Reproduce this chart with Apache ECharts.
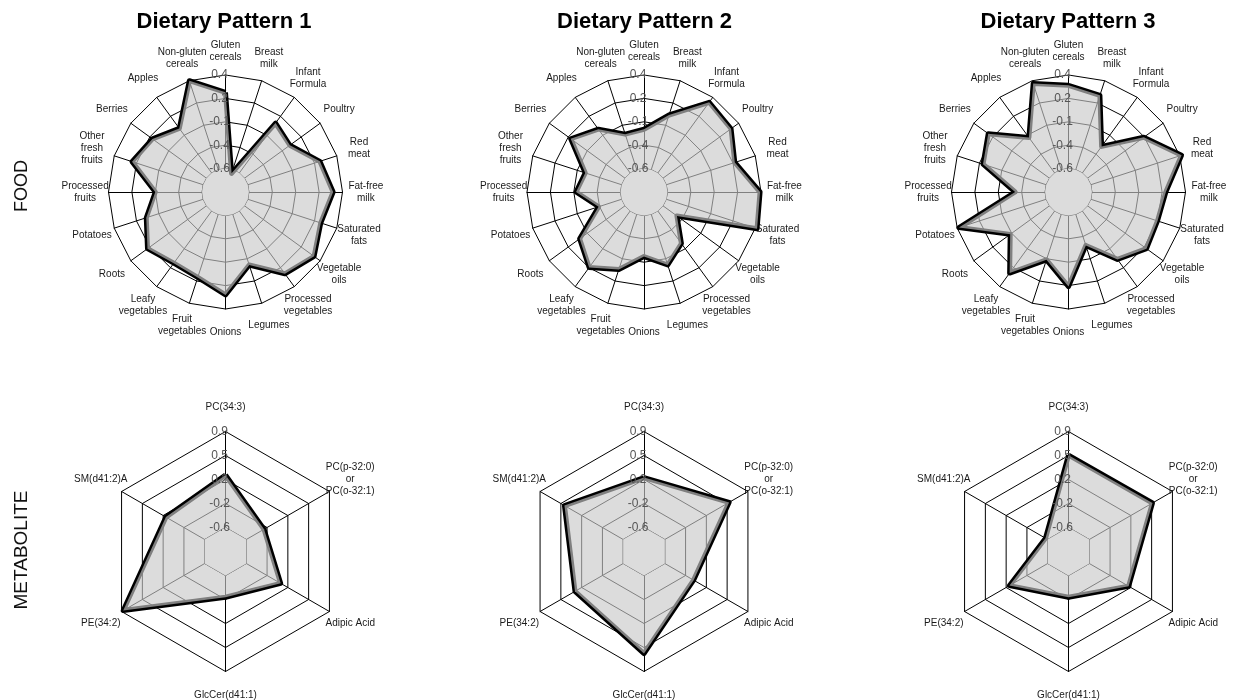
<!DOCTYPE html>
<html><head><meta charset="utf-8">
<script src="https://cdn.jsdelivr.net/npm/echarts@6/dist/echarts.min.js"></script>
<style>html,body{margin:0;padding:0;background:#fff}#c{width:1235px;height:700px}</style>
</head><body><div id="c"></div>
<script>
// ---- data (clockwise from top) ----
const foodCategories = ['Gluten\ncereals','Breast\nmilk','Infant\nFormula','Poultry','Red\nmeat','Fat-free\nmilk','Saturated\nfats','Vegetable\noils','Processed\nvegetables','Legumes','Onions','Fruit\nvegetables','Leafy\nvegetables','Roots','Potatoes','Processed\nfruits','Other\nfresh\nfruits','Berries','Apples','Non-gluten\ncereals'];
const metaCategories = ['PC(34:3)','PC(p-32:0)\nor\nPC(o-32:1)','Adipic Acid','GlcCer(d41:1)','PE(34:2)','SM(d41:2)A'];
const foodTickLabels = ['-0.6','-0.4','-0.1','0.2','0.4'];
const metaTickLabels = ['-0.6','-0.2','0.2','0.5','0.9'];
const patternTitles = ['Dietary Pattern 1','Dietary Pattern 2','Dietary Pattern 3'];
const rowLabels = ['FOOD','METABOLITE'];

const foodDP1 = [0.215,-0.64,0.06,0.0,0.21,0.30,0.22,0.32,0.23,-0.03,0.25,0.11,0.09,0.18,0.04,-0.10,0.20,0.115,-0.01,0.40];
const foodDP2 = [-0.18,0.015,0.335,0.30,0.17,0.39,0.42,-0.415,-0.17,-0.03,-0.16,0.02,0.147,0.0,-0.34,-0.124,-0.19,0.118,-0.02,-0.20];
const foodDP3 = [0.29,0.236,-0.248,0.144,0.42,0.19,0.15,0.18,0.04,-0.25,0.16,-0.088,0.22,-0.08,0.38,-0.28,0.11,0.21,-0.13,0.37];
const metaDP1 = [0.22,-0.28,0.02,-0.26,0.87,0.10];
const metaDP2 = [0.18,0.56,-0.08,0.62,0.27,0.46];
const metaDP3 = [0.53,0.54,0.11,-0.26,0.09,-0.56];

// ---- chart ----
const chart = echarts.init(document.getElementById('c'));
const colX = [225.5, 644, 1068.5];
const titleX = [224, 644.5, 1068];
const foodY = 192, metaY = 551.5;
const foodR = 117, metaR = 120;
const FONT = 'Liberation Sans, Arial, sans-serif';

function ccwOrder(arr) { return [arr[0]].concat(arr.slice(1).reverse()); }

function scaleOf(ticks) {
  const lo = parseFloat(ticks[0]);
  const hi = parseFloat(ticks[ticks.length - 1]);
  const step = (hi - lo) / (ticks.length - 1);
  return { lo: lo, hi: hi, step: step, min: lo - step };
}

function makeRadar(cats, ticks, cx, cy, r, labelsOnly) {
  const s = scaleOf(ticks);
  const ordered = ccwOrder(cats);
  const base = {
    center: [cx, cy], radius: r, startAngle: 90, shape: 'polygon',
    splitNumber: ticks.length,
    indicator: ordered.map((n, i) => {
      const o = { name: n, min: s.min, max: s.hi };
      if (labelsOnly && i === 0) o.axisLabel = { show: true };
      return o;
    }),
    nameGap: r * 0.2,
    splitArea: { show: false },
    axisTick: { show: false }
  };
  if (labelsOnly) {
    base.z = 5;
    base.axisName = { show: false };
    base.axisLine = { show: false };
    base.splitLine = { show: false };
    base.axisLabel = {
      show: false, color: '#555', fontSize: 12, fontFamily: FONT,
      align: 'center', verticalAlign: 'middle', margin: 6,
      formatter: function (v) {
        const k = Math.round((v - s.min) / s.step);
        return (k >= 1 && k <= ticks.length) ? ticks[k - 1] : '';
      }
    };
  } else {
    base.axisName = { color: '#1a1a1a', fontSize: 10, lineHeight: 12, fontFamily: FONT, align: 'center', verticalAlign: 'middle' };
    base.axisLine = { lineStyle: { color: '#000', width: 1 } };
    base.splitLine = { lineStyle: { color: '#000', width: 1 } };
    base.axisLabel = { show: false };
  }
  return base;
}

const panels = [
  { cats: foodCategories, ticks: foodTickLabels, data: foodDP1, cx: colX[0], cy: foodY, r: foodR },
  { cats: foodCategories, ticks: foodTickLabels, data: foodDP2, cx: colX[1], cy: foodY, r: foodR },
  { cats: foodCategories, ticks: foodTickLabels, data: foodDP3, cx: colX[2], cy: foodY, r: foodR },
  { cats: metaCategories, ticks: metaTickLabels, data: metaDP1, cx: colX[0], cy: metaY, r: metaR },
  { cats: metaCategories, ticks: metaTickLabels, data: metaDP2, cx: colX[1], cy: metaY, r: metaR },
  { cats: metaCategories, ticks: metaTickLabels, data: metaDP3, cx: colX[2], cy: metaY, r: metaR }
];

const radars = [];
const series = [];
panels.forEach((p, i) => {
  radars.push(makeRadar(p.cats, p.ticks, p.cx, p.cy, p.r, false));   // index 2i
  radars.push(makeRadar(p.cats, p.ticks, p.cx, p.cy, p.r, true));    // index 2i+1 (tick labels on top)
  const innerRing = p.cats.map(() => scaleOf(p.ticks).lo);
  series.push({
    type: 'radar', radarIndex: 2 * i, symbol: 'none', silent: true,
    lineStyle: { color: '#000', width: 1 },
    areaStyle: { color: '#fff', opacity: 1 },
    data: [{ value: innerRing }]
  });
  series.push({
    type: 'radar', radarIndex: 2 * i, symbol: 'none', silent: true,
    lineStyle: { color: '#000', width: 5, join: 'round' },
    areaStyle: { color: 'rgba(200,200,200,0.64)', opacity: 1 },
    data: [{ value: ccwOrder(p.data) }]
  });
});

const option = {
  backgroundColor: '#fff',
  animation: false,
  title: patternTitles.map((t, i) => ({
    text: t, left: titleX[i] - 5, top: 6, textAlign: 'center',
    textStyle: { fontSize: 22, fontWeight: 'bold', color: '#000', fontFamily: FONT }
  })),
  graphic: [
    { type: 'text', x: 22, y: 186, rotation: Math.PI / 2, style: { text: rowLabels[0], font: '18px ' + FONT, fill: '#111', align: 'center', verticalAlign: 'middle' } },
    { type: 'text', x: 22, y: 550, rotation: Math.PI / 2, style: { text: rowLabels[1], font: '19px ' + FONT, fill: '#111', align: 'center', verticalAlign: 'middle' } }
  ],
  radar: radars,
  series: series
};
chart.setOption(option);
</script>
</body></html>
